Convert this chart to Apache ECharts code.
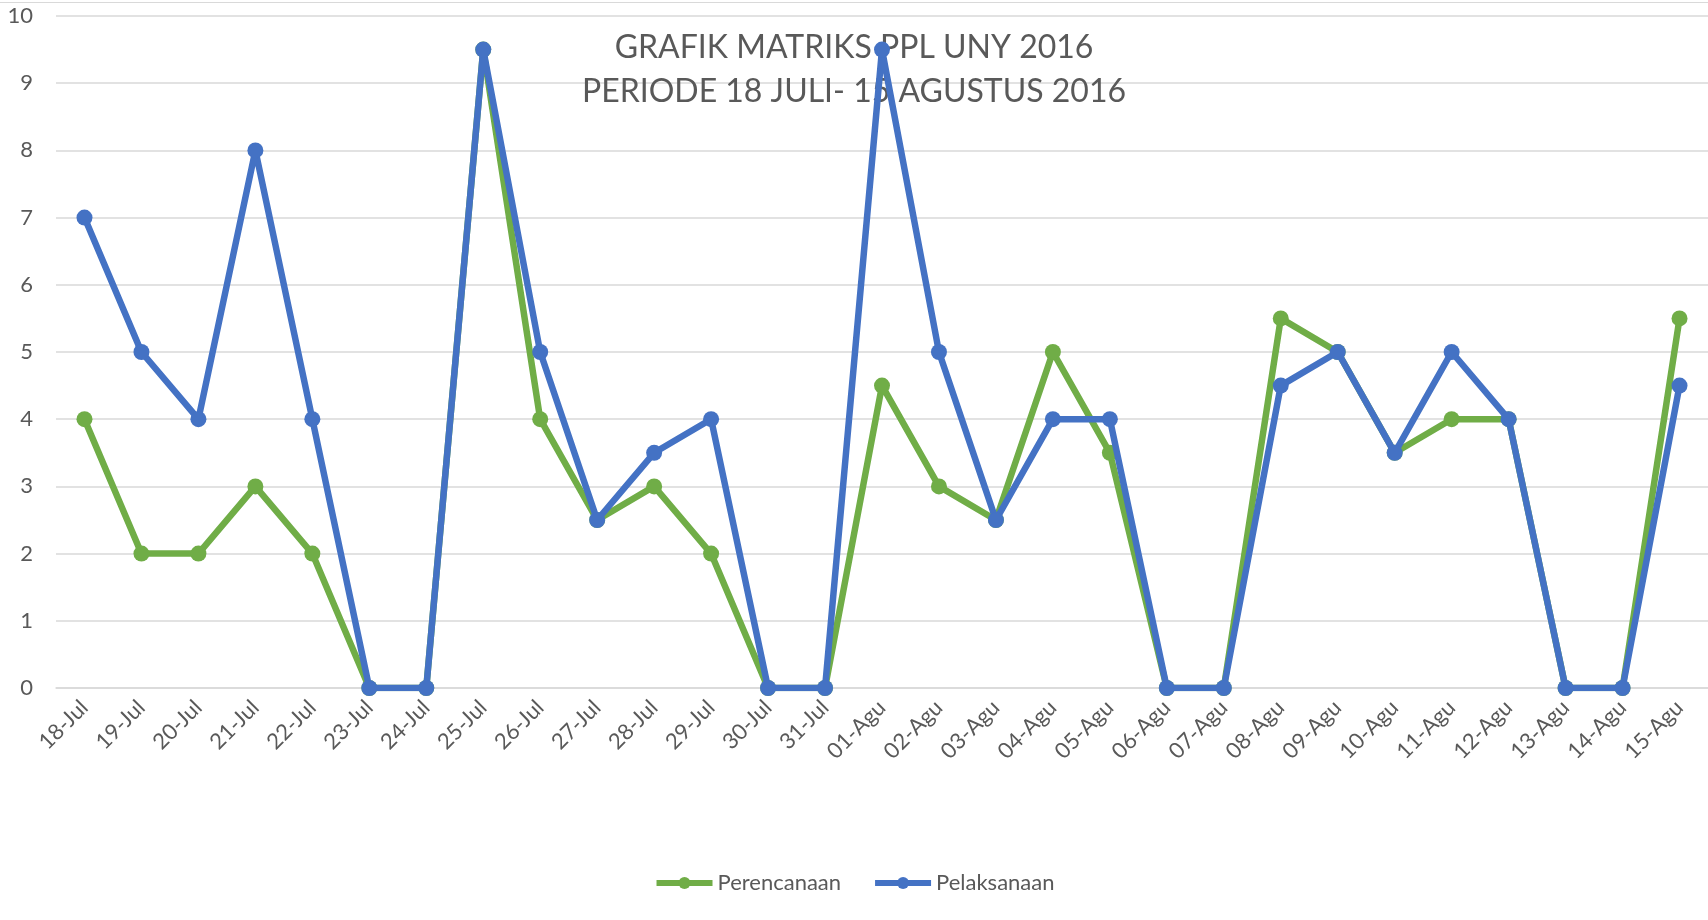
<!DOCTYPE html>
<html>
<head>
<meta charset="utf-8">
<script src="https://cdn.jsdelivr.net/npm/echarts@6/dist/echarts.min.js"></script>
<style>
html,body{margin:0;padding:0;background:#fff;}
#chart{width:1708px;height:920px;}
</style>
</head>
<body>
<div id="chart"></div>
<script>
const categories = ['18-Jul','19-Jul','20-Jul','21-Jul','22-Jul','23-Jul','24-Jul','25-Jul','26-Jul','27-Jul','28-Jul','29-Jul','30-Jul','31-Jul','01-Agu','02-Agu','03-Agu','04-Agu','05-Agu','06-Agu','07-Agu','08-Agu','09-Agu','10-Agu','11-Agu','12-Agu','13-Agu','14-Agu','15-Agu'];
const perencanaan = [4,2,2,3,2,0,0,9.5,4,2.5,3,2,0,0,4.5,3,2.5,5,3.5,0,0,5.5,5,3.5,4,4,0,0,5.5];
const pelaksanaan = [7,5,4,8,4,0,0,9.5,5,2.5,3.5,4,0,0,9.5,5,2.5,4,4,0,0,4.5,5,3.5,5,4,0,0,4.5];
const titleLines = ['GRAFIK MATRIKS PPL UNY 2016','PERIODE 18 JULI- 15 AGUSTUS 2016'];

const FONT = 'Lato';
const chart = echarts.init(document.getElementById('chart'));
chart.setOption({
  backgroundColor: '#ffffff',
  animation: false,
  textStyle: { fontFamily: FONT },
  title: {
    text: titleLines.join('\n'),
    left: 'center',
    top: 21,
    z: 1,
    textStyle: { fontFamily: FONT, fontSize: 32, fontWeight: 'normal', color: '#595959', lineHeight: 44 }
  },
  graphic: [{
    type: 'line', shape: { x1: 0, y1: 2.5, x2: 1708, y2: 2.5 },
    style: { stroke: '#d9d9d9', lineWidth: 1 }, silent: true
  }],
  legend: {
    bottom: 21,
    left: 'center',
    itemWidth: 56,
    itemHeight: 15,
    itemGap: 31,
    lineStyle: { width: 6 },
    textStyle: { fontFamily: FONT, fontSize: 22, color: '#595959' },
    data: ['Perencanaan','Pelaksanaan']
  },
  grid: { left: 56, right: -3, top: 16, bottom: 232, containLabel: false },
  xAxis: {
    type: 'category',
    data: categories,
    boundaryGap: true,
    axisLine: { show: true, lineStyle: { color: '#d9d9d9', width: 1.5 } },
    axisTick: { show: false },
    axisLabel: { interval: 0, rotate: 45, margin: 16, fontFamily: FONT, fontSize: 22, color: '#595959' }
  },
  yAxis: {
    type: 'value',
    min: 0, max: 10, interval: 1,
    axisLine: { show: false },
    axisTick: { show: false },
    splitLine: { lineStyle: { color: '#d9d9d9', width: 1.5 } },
    axisLabel: { margin: 23, fontFamily: FONT, fontSize: 22, color: '#595959' }
  },
  series: [
    {
      name: 'Perencanaan', type: 'line', data: perencanaan,
      symbol: 'circle', symbolSize: 16, z: 3,
      itemStyle: { color: '#70ad47' },
      lineStyle: { color: '#70ad47', width: 6.5 }
    },
    {
      name: 'Pelaksanaan', type: 'line', data: pelaksanaan,
      symbol: 'circle', symbolSize: 16, z: 4,
      itemStyle: { color: '#4472c4' },
      lineStyle: { color: '#4472c4', width: 6.5 }
    }
  ]
});
</script>
</body>
</html>
